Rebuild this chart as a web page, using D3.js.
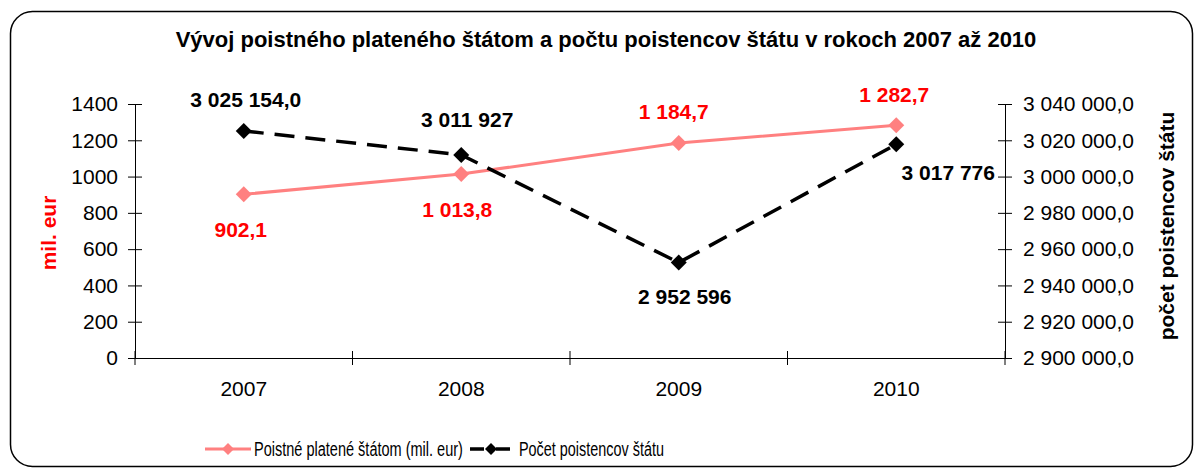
<!DOCTYPE html>
<html>
<head>
<meta charset="utf-8">
<script src="https://cdn.jsdelivr.net/npm/d3@7"></script>
<style>
  body { margin: 0; background: #fff; }
  svg text { font-family: "Liberation Sans", Arial, sans-serif; }
</style>
</head>
<body>
<div id="chart"></div>
<script>
var years = ["2007", "2008", "2009", "2010"];
var poistne = [902.1, 1013.8, 1184.7, 1282.7];
var poistne_labels = ["902,1", "1 013,8", "1 184,7", "1 282,7"];
var poistenci = [3025154.0, 3011927, 2952596, 3017776];
var poistenci_labels = ["3 025 154,0", "3 011 927", "2 952 596", "3 017 776"];
var left_ticks = [0, 200, 400, 600, 800, 1000, 1200, 1400];
var right_ticks = [2900000, 2920000, 2940000, 2960000, 2980000, 3000000, 3020000, 3040000];

// label offsets from their points (dx, dy)
var poistne_off = [[-3, 43], [-4, 43], [-5, -24], [-2, -23]];
var poistenci_off = [[2, -24], [6, -28], [6, 41], [52, 36]];

var W = 1194, H = 469;
var plot = {left: 135, right: 1005, top: 104, bottom: 358};

var svg = d3.select("#chart").append("svg").attr("width", W).attr("height", H);

svg.append("rect").attr("x", 10.5).attr("y", 11.5).attr("width", 1182).attr("height", 455)
    .attr("rx", 22).attr("ry", 22).attr("fill", "#fff").attr("stroke", "#000").attr("stroke-width", 1.5);

var x = d3.scaleBand().domain(years).range([plot.left, plot.right]);
var y = d3.scaleLinear().domain([0, 1400]).range([plot.bottom, plot.top]);
var y1 = d3.scaleLinear().domain([2900000, 3040000]).range([plot.bottom, plot.top]);

var fmtRight = function(v) {
    return d3.format(",.1f")(v).replace(/,/g, " ").replace(".", ",");
};

// axes
var gl = svg.append("g").attr("transform", "translate(" + plot.left + ",0)")
    .call(d3.axisLeft(y).tickValues(left_ticks).tickFormat(d3.format("d")).tickSize(7).tickSizeOuter(0).tickPadding(10));
gl.selectAll(".tick line").attr("x2", 7).attr("x1", -7);
var gr = svg.append("g").attr("transform", "translate(" + plot.right + ",0)")
    .call(d3.axisRight(y1).tickValues(right_ticks).tickFormat(fmtRight).tickSize(7).tickSizeOuter(0).tickPadding(11));
gr.selectAll(".tick line").attr("x1", -7).attr("x2", 7);
var gx = svg.append("g").attr("transform", "translate(0," + plot.bottom + ")")
    .call(d3.axisBottom(x).tickSize(0).tickPadding(23));
gx.selectAll(".tick line").remove();
// ticks at band boundaries
var bounds = years.map(function(d) { return x(d); }).concat([plot.right]);
gx.selectAll(".bnd").data(bounds).enter().append("line")
    .attr("x1", function(d) { return d; }).attr("x2", function(d) { return d; })
    .attr("y1", -7).attr("y2", 7).attr("stroke", "#000");

svg.selectAll(".domain").attr("stroke", "#000");
svg.selectAll(".tick text").attr("font-size", 21).attr("fill", "#000")
    .attr("font-family", "Liberation Sans, Arial, sans-serif");

var cx = function(i) { return x(years[i]) + x.bandwidth() / 2; };

function diamond(r) {
    return "M0," + (-r) + "L" + r + ",0L0," + r + "L" + (-r) + ",0Z";
}

// pink series
var linePink = d3.line().x(function(d, i) { return cx(i); }).y(function(d) { return y(d); });
svg.append("path").datum(poistne).attr("d", linePink).attr("fill", "none")
    .attr("stroke", "#ff8080").attr("stroke-width", 3);

// black series
var lineBlack = d3.line().x(function(d, i) { return cx(i); }).y(function(d) { return y1(d); });
svg.append("path").datum(poistenci).attr("d", lineBlack).attr("fill", "none")
    .attr("stroke", "#000").attr("stroke-width", 3.5).attr("stroke-dasharray", "20,11");

svg.selectAll(".mp").data(poistne).enter().append("path")
    .attr("d", diamond(8)).attr("fill", "#ff8080")
    .attr("transform", function(d, i) { return "translate(" + cx(i) + "," + y(d) + ")"; });
svg.selectAll(".mb").data(poistenci).enter().append("path")
    .attr("d", diamond(8)).attr("fill", "#000")
    .attr("transform", function(d, i) { return "translate(" + cx(i) + "," + y1(d) + ")"; });

// data labels
svg.selectAll(".lp").data(poistne).enter().append("text")
    .attr("x", function(d, i) { return cx(i) + poistne_off[i][0]; })
    .attr("y", function(d, i) { return y(d) + poistne_off[i][1]; })
    .attr("text-anchor", "middle").attr("font-size", 21).attr("font-weight", "bold").attr("fill", "#ff0000")
    .text(function(d, i) { return poistne_labels[i]; });
svg.selectAll(".lb").data(poistenci).enter().append("text")
    .attr("x", function(d, i) { return cx(i) + poistenci_off[i][0]; })
    .attr("y", function(d, i) { return y1(d) + poistenci_off[i][1]; })
    .attr("text-anchor", "middle").attr("font-size", 21).attr("font-weight", "bold").attr("fill", "#000")
    .text(function(d, i) { return poistenci_labels[i]; });

// title
svg.append("text").attr("x", 606).attr("y", 47).attr("text-anchor", "middle")
    .attr("font-size", 22).attr("font-weight", "bold")
    .text("Vývoj poistného plateného štátom a počtu poistencov štátu v rokoch 2007 až 2010");

// axis titles
svg.append("text").attr("transform", "translate(56,233) rotate(-90)").attr("text-anchor", "middle")
    .attr("font-size", 21).attr("font-weight", "bold").attr("fill", "#ff0000").text("mil. eur");
svg.append("text").attr("transform", "translate(1174,226) rotate(-90)").attr("text-anchor", "middle")
    .attr("font-size", 21).attr("font-weight", "bold").attr("fill", "#000").text("počet poistencov štátu");

// legend (condensed text, squeezed horizontally)
var ly = 449;
function legendText(x0, w, str) {
    var t = svg.append("text").attr("font-size", 21).text(str);
    var sx = w / t.node().getComputedTextLength();
    t.attr("transform", "translate(" + x0 + "," + (ly + 7) + ") scale(" + sx + ",1)");
}
svg.append("line").attr("x1", 205).attr("x2", 251).attr("y1", ly).attr("y2", ly)
    .attr("stroke", "#ff8080").attr("stroke-width", 3);
svg.append("path").attr("d", diamond(6)).attr("fill", "#ff8080").attr("transform", "translate(228," + ly + ")");
legendText(254, 209, "Poistné platené štátom (mil. eur)");

svg.append("line").attr("x1", 470).attr("x2", 510).attr("y1", ly).attr("y2", ly)
    .attr("stroke", "#000").attr("stroke-width", 3.5).attr("stroke-dasharray", "14,12");
svg.append("path").attr("d", diamond(6)).attr("fill", "#000").attr("transform", "translate(491," + ly + ")");
legendText(519, 145, "Počet poistencov štátu");
</script>
</body>
</html>
